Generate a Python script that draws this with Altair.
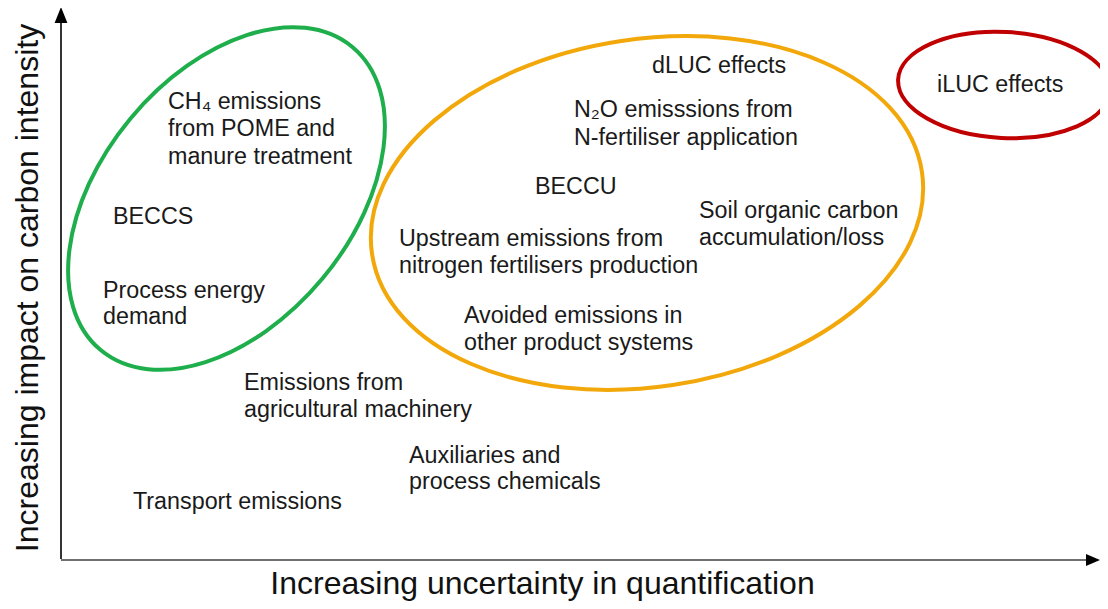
import altair as alt
import pandas as pd

# ---------------- data (diagram coordinates: x to the right, y downward) -------------
label_text = [
    "dLUC effects",
    "N₂O emisssions from", "N-fertiliser application",
    "BECCU",
    "Soil organic carbon", "accumulation/loss",
    "Upstream emissions from", "nitrogen fertilisers production",
    "Avoided emissions in", "other product systems",
    "iLUC effects",
    "CH₄ emissions", "from POME and", "manure treatment",
    "BECCS",
    "Process energy", "demand",
    "Emissions from", "agricultural machinery",
    "Auxiliaries and", "process chemicals",
    "Transport emissions",
]
label_x = [652, 574, 574, 535, 699, 699, 399, 399, 464, 464, 937,
           168, 168, 168, 113, 103, 103, 244, 244, 409, 409, 133]
label_y = [66, 109.5, 137.5, 186.5, 210.5, 237.5, 238.5, 265.5, 316, 342.5, 84.5,
           102, 128.5, 156.5, 216.5, 290.5, 316.5, 383, 409.5, 455.5, 481.5, 501.5]

group_name = ["Low uncertainty", "Medium uncertainty", "High uncertainty"]
group_cx = [226.5, 647, 1004]
group_cy = [198.5, 213, 85]
group_semi_major = [197, 278, 106]
group_semi_minor = [125, 174, 53]
group_tilt = [309.7, 351.5, 3]
group_color = ["#1EAE4B", "#F2A80A", "#C00000"]

axis_x1 = [61, 61]
axis_y1 = [559, 560]
axis_x2 = [61, 1088]
axis_y2 = [22, 560]
axis_color = ["#000000", "#404040"]

arrow_x = [61, 1093]
arrow_y = [15, 560]
arrow_shape = ["M0,-1 L0.8,1 L-0.8,1 Z", "M1,0 L-1,0.85 L-1,-0.85 Z"]
arrow_size = [256, 196]

x_title = "Increasing uncertainty in quantification"
y_title = "Increasing impact on carbon intensity"
title_x = [542.5, 28]
title_y = [584, 288]
title_angle = [0, 270]

# ---------------- helpers -------------
K = 0.5523


def ellipse_path(ratio):
    r = ratio
    k = K
    return (f"M1,0 C1,{k*r:.4f} {k:.4f},{r:.4f} 0,{r:.4f} "
            f"C{-k:.4f},{r:.4f} -1,{k*r:.4f} -1,0 "
            f"C-1,{-k*r:.4f} {-k:.4f},{-r:.4f} 0,{-r:.4f} "
            f"C{k:.4f},{-r:.4f} 1,{-k*r:.4f} 1,0 Z")


W, H = 1092, 593
xs = alt.Scale(domain=[8, 8 + W], nice=False, zero=False)
ys = alt.Scale(domain=[8, 8 + H], nice=False, zero=False, reverse=True)
FONT = "Liberation Sans"

labels = pd.DataFrame({"text": label_text, "x": label_x, "y": label_y})
groups = pd.DataFrame({
    "name": group_name,
    "cx": group_cx,
    "cy": group_cy,
    "size": [(2 * a) ** 2 for a in group_semi_major],
    "shape": [ellipse_path(b / a) for a, b in zip(group_semi_major, group_semi_minor)],
    "angle": group_tilt,
    "color": group_color,
})
axes = pd.DataFrame({"x": axis_x1, "y": axis_y1, "x2": axis_x2, "y2": axis_y2,
                     "color": axis_color})
arrows = pd.DataFrame({"x": arrow_x, "y": arrow_y, "shape": arrow_shape,
                       "size": arrow_size})
titles = pd.DataFrame({"text": [x_title, y_title], "x": title_x,
                       "y": title_y, "angle": title_angle})

axis_lines = alt.Chart(axes).mark_rule(strokeWidth=1.6).encode(
    x=alt.X("x:Q", scale=xs, axis=None),
    y=alt.Y("y:Q", scale=ys, axis=None),
    x2="x2:Q", y2="y2:Q",
    color=alt.Color("color:N", scale=None),
)

arrow_heads = alt.Chart(arrows).mark_point(filled=True, opacity=1, color="#000000",
                                           strokeWidth=0).encode(
    x=alt.X("x:Q", scale=xs, axis=None),
    y=alt.Y("y:Q", scale=ys, axis=None),
    shape=alt.Shape("shape:N", scale=None),
    size=alt.Size("size:Q", scale=None),
)

ellipses = alt.Chart(groups).mark_point(filled=False, opacity=1, strokeWidth=4).encode(
    x=alt.X("cx:Q", scale=xs, axis=None),
    y=alt.Y("cy:Q", scale=ys, axis=None),
    shape=alt.Shape("shape:N", scale=None),
    size=alt.Size("size:Q", scale=None),
    angle=alt.Angle("angle:Q", scale=None),
    color=alt.Color("color:N", scale=None),
)

text = alt.Chart(labels).mark_text(align="left", baseline="middle", fontSize=23.3,
                                   font=FONT, color="#1a1a1a").encode(
    x=alt.X("x:Q", scale=xs, axis=None),
    y=alt.Y("y:Q", scale=ys, axis=None),
    text="text:N",
)

axis_titles = alt.Chart(titles).mark_text(align="center", baseline="middle",
                                          fontSize=32, font=FONT,
                                          color="#111111").encode(
    x=alt.X("x:Q", scale=xs, axis=None),
    y=alt.Y("y:Q", scale=ys, axis=None),
    text="text:N",
    angle=alt.Angle("angle:Q", scale=None),
)

chart = alt.layer(ellipses, axis_lines, arrow_heads, text, axis_titles).properties(
    width=W, height=H, padding=0, autosize=alt.AutoSizeParams(type="none"),
    background="white",
).configure_view(stroke=None)

chart.save("out.html", embed_options={"renderer": "svg", "actions": False})
